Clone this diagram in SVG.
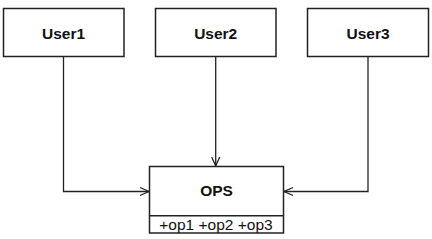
<svg xmlns="http://www.w3.org/2000/svg" width="432" height="239" viewBox="0 0 432 239">
<defs>
<marker id="arr" markerWidth="12" markerHeight="12" refX="10" refY="6" orient="auto" markerUnits="userSpaceOnUse">
<path d="M1,2 L10,6 L1,10" fill="none" stroke="#222" stroke-width="1.3"/>
</marker>
<style>
.box{fill:#fff;stroke:#222;stroke-width:1.5}
.lbl{font-family:"Liberation Sans",Arial,sans-serif;font-size:15.5px;font-weight:bold;fill:#111;text-anchor:middle}
.op{font-family:"Liberation Sans",Arial,sans-serif;font-size:15.5px;fill:#111;text-anchor:middle}
.con{fill:none;stroke:#222;stroke-width:1.3;marker-end:url(#arr)}
</style>
</defs>
<rect width="432" height="239" fill="#fff"/>
<g id="connectors">
<path class="con" d="M63.5,57 V191.5 H149"/>
<path class="con" d="M215.7,57 V166"/>
<path class="con" d="M368,57 V191.5 H284"/>
</g>
<g id="user1">
<rect class="box" x="3.5" y="8.5" width="120.5" height="48"/>
<text class="lbl" x="63.5" y="39">User1</text>
</g>
<g id="user2">
<rect class="box" x="155.5" y="8.5" width="120.5" height="48"/>
<text class="lbl" x="215.7" y="39">User2</text>
</g>
<g id="user3">
<rect class="box" x="307.5" y="8.5" width="121" height="48"/>
<text class="lbl" x="368" y="39">User3</text>
</g>
<g id="ops">
<rect class="box" x="149.5" y="166.5" width="134" height="66.5"/>
<line x1="149.5" y1="215.7" x2="283.5" y2="215.7" stroke="#222" stroke-width="1.5"/>
<text class="lbl" x="216.5" y="196">OPS</text>
<text class="op" x="216" y="230">+op1 +op2 +op3</text>
</g>
</svg>
